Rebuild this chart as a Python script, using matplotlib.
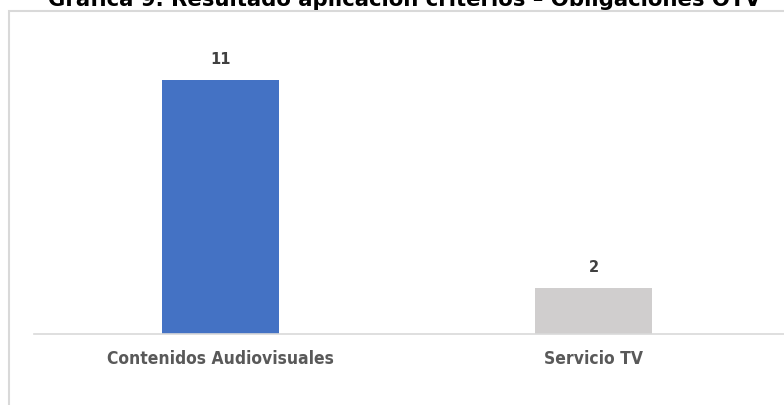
import matplotlib
matplotlib.use("Agg")
import matplotlib.pyplot as plt
from matplotlib.patches import Rectangle

categories = ["Contenidos Audiovisuales", "Servicio TV"]
values = [11, 2]
bar_colors = ["#4472C4", "#D0CECE"]
title = "Gráfica 9. Resultado aplicación criterios – Obligaciones OTV"

W, H = 784, 406
fig = plt.figure(figsize=(W / 100, H / 100), dpi=100)

# outer chart border (partially cut off like the reference)
fig.patches.append(Rectangle((8.5 / W, -0.1), 1.2, (H - 12) / H + 0.1,
                             transform=fig.transFigure, fill=False,
                             edgecolor="#D9D9D9", linewidth=1.5))

ax_left, ax_bottom_px, ax_top_px = 34, 335, 58
ax = fig.add_axes([ax_left / W, (H - ax_bottom_px) / H, (W - ax_left) / W,
                   (ax_bottom_px - ax_top_px) / H])
x = list(range(len(categories)))
bars = ax.bar(x, values, width=0.313, color=bar_colors, zorder=2)
ax.set_xlim(-0.501, 1.51)
ax.set_ylim(0, 12)
for s in ["top", "right", "left"]:
    ax.spines[s].set_visible(False)
ax.spines["bottom"].set_color("#D9D9D9")
ax.spines["bottom"].set_linewidth(1.2)
ax.set_yticks([])
ax.set_xticks(x)
ax.set_xticklabels(categories, fontsize=12.5, fontweight="bold", color="#595959",
                   fontstretch="condensed")
ax.tick_params(axis="x", length=0, pad=11)
for b, v in zip(bars, values):
    ax.annotate(str(v), (b.get_x() + b.get_width() / 2, v), xytext=(0, 10),
                textcoords="offset points", ha="center", va="bottom",
                fontsize=10.5, fontweight="bold", color="#404040")

fig.text(404.5 / W, (H - 6) / H, title, ha="center", va="baseline",
         fontsize=15.3, fontweight="bold", color="#000000")

fig.savefig("out.png", dpi=100)
